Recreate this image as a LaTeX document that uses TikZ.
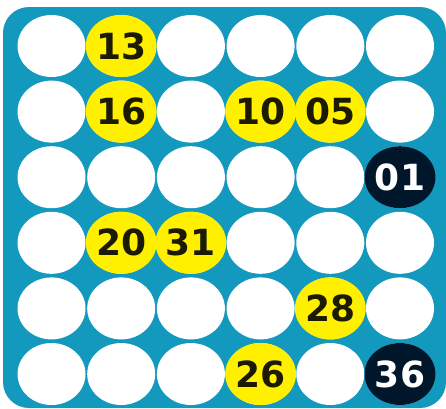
\documentclass[tikz,border=0pt]{standalone}
\usepackage{fontspec}
\setmainfont{DejaVu Sans}
\definecolor{boardblue}{HTML}{1398BE}
\definecolor{ballyellow}{HTML}{FFF000}
\definecolor{balldark}{HTML}{00162B}
\definecolor{numdark}{HTML}{1C1A00}
\tikzset{
  ball/.style={ellipse, minimum width=68pt, minimum height=62pt, inner sep=0pt, font=\bfseries\fontsize{36}{36}\selectfont},
  emptyball/.style={ball, fill=white},
  yball/.style={ball, fill=ballyellow, text=numdark},
  dball/.style={ball, fill=balldark, text=white},
}
\usetikzlibrary{shapes.geometric}
\begin{document}
\begin{tikzpicture}[x=1pt,y=-1pt]
\useasboundingbox (0,0) rectangle (446,408);
\fill[boardblue, rounded corners=26pt] (3,7) rectangle (446,408);
\foreach \r in {1,...,6}{
  \foreach \c in {1,...,6}{
    \node[emptyball] (b\r\c) at ({51.5+69.7*(\c-1)},{46+65.6*(\r-1)}) {};
  }
}
\node[yball] (n13) at (b12) {13};
\node[yball] (n16) at (b22) {16};
\node[yball] (n10) at (b24) {10};
\node[yball] (n05) at (b25) {05};
\node[dball] (n01) at (b36) {01};
\node[yball] (n20) at (b42) {20};
\node[yball] (n31) at (b43) {31};
\node[yball] (n28) at (b55) {28};
\node[yball] (n26) at (b64) {26};
\node[dball] (n36) at (b66) {36};
\end{tikzpicture}
\end{document}
